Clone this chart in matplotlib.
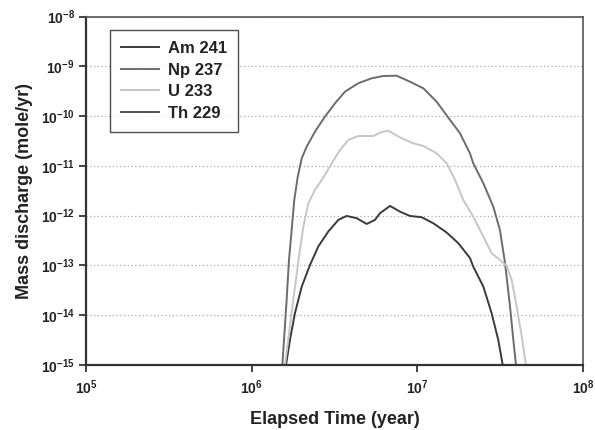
import numpy as np
import matplotlib
matplotlib.use("Agg")
import matplotlib.pyplot as plt
from matplotlib.ticker import FixedLocator, FixedFormatter, NullLocator

plt.rcParams['font.family'] = ['Liberation Sans', 'DejaVu Sans']
plt.rcParams['mathtext.fontset'] = 'custom'
plt.rcParams['mathtext.bf'] = 'Liberation Sans:bold'
plt.rcParams['mathtext.rm'] = 'Liberation Sans'

# === Datos (log10 del tiempo, log10 de la descarga) ===
am_logt = [6.207, 6.231, 6.261, 6.302, 6.352, 6.402, 6.462, 6.523, 6.573, 6.634,
           6.694, 6.744, 6.774, 6.835, 6.895, 6.955, 7.026, 7.096, 7.177, 7.247,
           7.317, 7.337, 7.398, 7.448, 7.488, 7.515]
am_logq = [-15.0, -14.496, -13.96, -13.426, -12.99, -12.62, -12.32, -12.086, -12.006, -12.052,
           -12.167, -12.086, -11.952, -11.805, -11.92, -12.006, -12.032, -12.153, -12.34, -12.554,
           -12.85, -13.024, -13.426, -13.96, -14.496, -15.0]

np_logt = [6.185, 6.211, 6.225, 6.241, 6.257, 6.278, 6.302, 6.332, 6.382, 6.442,
           6.503, 6.563, 6.643, 6.724, 6.794, 6.875, 6.955, 7.036, 7.116, 7.197,
           7.257, 7.317, 7.337, 7.398, 7.458, 7.498, 7.529, 7.559, 7.579, 7.595]
np_logq = [-15.0, -13.69, -12.89, -12.3, -11.685, -11.217, -10.848, -10.614, -10.313, -10.012,
           -9.743, -9.51, -9.341, -9.241, -9.195, -9.189, -9.309, -9.442, -9.711, -10.078,
           -10.345, -10.747, -10.948, -11.35, -11.82, -12.287, -12.956, -13.827, -14.496, -15.0]

u_logt = [6.201, 6.251, 6.291, 6.312, 6.342, 6.382, 6.442, 6.483, 6.533, 6.583,
          6.643, 6.734, 6.774, 6.824, 6.895, 6.975, 7.036, 7.116, 7.177, 7.227,
          7.277, 7.337, 7.398, 7.448, 7.498, 7.539, 7.569, 7.599, 7.63, 7.655]
u_logq = [-15.0, -13.69, -12.69, -12.22, -11.75, -11.484, -11.183, -10.948, -10.681, -10.48,
          -10.40, -10.40, -10.333, -10.293, -10.427, -10.547, -10.60, -10.747, -10.948, -11.283,
          -11.685, -12.02, -12.42, -12.755, -12.89, -13.01, -13.29, -13.827, -14.43, -15.0]

# Th 229 queda por debajo del rango del eje
th_logt = [6.3, 6.8, 7.3]
th_logq = [-16.5, -16.2, -16.5]

series = [
    ("Am 241", am_logt, am_logq, "#3a3a3a"),
    ("Np 237", np_logt, np_logq, "#6c6c6c"),
    ("U 233", u_logt, u_logq, "#c6c6c6"),
    ("Th 229", th_logt, th_logq, "#505050"),
]

x_ticks = [1e5, 1e6, 1e7, 1e8]
x_labels = [r'$\mathbf{10^{5}}$', r'$\mathbf{10^{6}}$', r'$\mathbf{10^{7}}$', r'$\mathbf{10^{8}}$']
y_ticks = [10.0 ** e for e in range(-15, -7)]
y_labels = [r'$\mathbf{10^{%d}}$' % e for e in range(-15, -7)]

fig = plt.figure(figsize=(5.95, 4.3), dpi=100)
ax = fig.add_axes([0.1445, 0.1512, 0.8355, 0.8104])

for name, lt, lq, color in series:
    ax.plot(10.0 ** np.array(lt), 10.0 ** np.array(lq), color=color, lw=1.4, label=name,
            solid_joinstyle='round')

ax.set_xscale('log')
ax.set_yscale('log')
ax.set_xlim(1e5, 1e8)
ax.set_ylim(1e-15, 1e-8)

ax.xaxis.set_major_locator(FixedLocator(x_ticks))
ax.xaxis.set_major_formatter(FixedFormatter(x_labels))
ax.xaxis.set_minor_locator(NullLocator())
ax.yaxis.set_major_locator(FixedLocator(y_ticks))
ax.yaxis.set_major_formatter(FixedFormatter(y_labels))
ax.yaxis.set_minor_locator(NullLocator())

ax.tick_params(axis='both', direction='out', length=5, width=1.2, labelsize=10, colors='#222222')
ax.tick_params(axis='x', pad=5)
ax.tick_params(axis='y', pad=3)

ax.yaxis.grid(True, linestyle=(0, (1, 2)), color='#aaaaaa', lw=0.9)
ax.set_axisbelow(True)

for s in ['left', 'bottom']:
    ax.spines[s].set_linewidth(1.6)
    ax.spines[s].set_color('#333333')
for s in ['top', 'right']:
    ax.spines[s].set_linewidth(1.2)
    ax.spines[s].set_color('#555555')

ax.set_xlabel("Elapsed Time (year)", fontsize=13, fontweight='bold', labelpad=10, color='#222222')
ax.set_ylabel("Mass discharge (mole/yr)", fontsize=13, fontweight='bold', labelpad=6, color='#222222')

leg = ax.legend(loc='upper left', bbox_to_anchor=(0.048, 0.961), fontsize=12, frameon=True,
                fancybox=False, edgecolor='#222222', handlelength=2.3, handletextpad=0.55,
                labelspacing=0.4, borderpad=0.65, borderaxespad=0)
leg.get_frame().set_linewidth(1.0)
for t in leg.get_texts():
    t.set_fontweight('bold')
    t.set_color('#222222')

fig.savefig("out.png", dpi=100)
